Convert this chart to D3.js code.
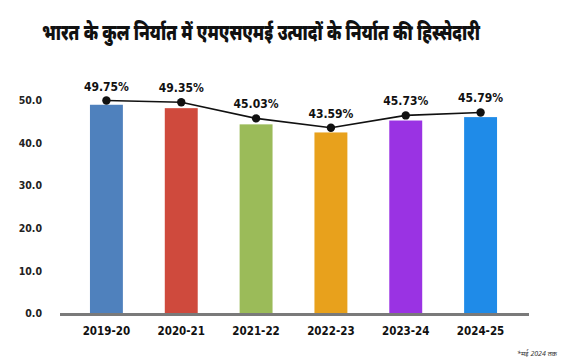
<!DOCTYPE html>
<html>
<head>
<meta charset="utf-8">
<script src="https://cdn.jsdelivr.net/npm/d3@7"></script>
<style>
  body { margin: 0; background: #fff; }
  svg { display: block; }
  .tick-label { font-family: "DejaVu Sans Condensed", "DejaVu Sans", sans-serif; font-weight: bold; font-size: 10.5px; fill: #222; }
  .cat-label { font-family: "DejaVu Sans Condensed", "DejaVu Sans", sans-serif; font-weight: bold; font-size: 11.5px; fill: #111; }
  .val-label { font-family: "DejaVu Sans Condensed", "DejaVu Sans", sans-serif; font-weight: bold; font-size: 12px; fill: #111; }
</style>
</head>
<body>
<svg class="chart"></svg>
<script>
const WIDTH = 563;
const HEIGHT = 362;

const years = ["2019-20", "2020-21", "2021-22", "2022-23", "2023-24", "2024-25"];
const barValues = [49.0, 48.2, 44.4, 42.5, 45.3, 46.1];
const lineValues = [50.0, 49.6, 45.8, 43.6, 46.5, 47.2];
const shareLabels = ["49.75%", "49.35%", "45.03%", "43.59%", "45.73%", "45.79%"];
const barColors = ["#4f81bd", "#cf4a3d", "#9bbb59", "#e8a11c", "#9a33e3", "#1f8be8"];
const yTicks = [0, 10, 20, 30, 40, 50];

const TITLE = "भारत के कुल निर्यात में एमएसएमई उत्पादों के निर्यात की हिस्सेदारी";
const NOTE = "*मई 2024 तक";

let svg = d3.select(".chart")
            .attr("width", WIDTH)
            .attr("height", HEIGHT);

let x = d3.scaleBand().domain(years).range([69, 518]).paddingInner(0.56).paddingOuter(0.28);
let y = d3.scaleLinear().domain([0, 50]).range([313.5, 100.5]);

// title: small font stretched tall, so it looks condensed like the original
svg.append("text")
   .attr("transform", "translate(261,40) scale(1,1.4)")
   .attr("text-anchor", "middle")
   .attr("textLength", 438)
   .attr("lengthAdjust", "spacingAndGlyphs")
   .style("font-family", "'Noto Sans', sans-serif")
   .style("font-weight", "900")
   .style("font-size", "15.5px")
   .attr("fill", "#111")
   .text(TITLE);

// y tick labels
svg.selectAll(".tick-label")
   .data(yTicks)
   .enter().append("text")
   .attr("class", "tick-label")
   .attr("x", 42)
   .attr("y", d => y(d))
   .attr("dy", "0.35em")
   .attr("text-anchor", "end")
   .text(d => d.toFixed(1));

// bars
svg.selectAll(".bar")
   .data(barValues)
   .enter().append("rect")
   .attr("class", "bar")
   .attr("x", (d, i) => x(years[i]))
   .attr("width", x.bandwidth())
   .attr("y", d => y(d))
   .attr("height", d => y(0) - y(d))
   .attr("fill", (d, i) => barColors[i]);

// baseline
svg.append("line")
   .attr("x1", 60)
   .attr("x2", 529)
   .attr("y1", y(0) + 1)
   .attr("y2", y(0) + 1)
   .attr("stroke", "#7a7a7a")
   .attr("stroke-width", 3);

// category labels
svg.selectAll(".cat-label")
   .data(years)
   .enter().append("text")
   .attr("class", "cat-label")
   .attr("x", d => x(d) + x.bandwidth() / 2)
   .attr("y", 335)
   .attr("text-anchor", "middle")
   .text(d => d);

// share line
let cx = (d, i) => x(years[i]) + x.bandwidth() / 2;
let line = d3.line().x(cx).y(d => y(d));

svg.append("path")
   .datum(lineValues)
   .attr("d", line)
   .attr("fill", "none")
   .attr("stroke", "#111")
   .attr("stroke-width", 1.6);

svg.selectAll(".dot")
   .data(lineValues)
   .enter().append("circle")
   .attr("class", "dot")
   .attr("cx", cx)
   .attr("cy", d => y(d))
   .attr("r", 4.2)
   .attr("fill", "#111");

svg.selectAll(".val-label")
   .data(lineValues)
   .enter().append("text")
   .attr("class", "val-label")
   .attr("x", cx)
   .attr("y", d => y(d) - 10)
   .attr("text-anchor", "middle")
   .text((d, i) => shareLabels[i]);

// footnote
svg.append("text")
   .attr("x", 557)
   .attr("y", 356)
   .attr("text-anchor", "end")
   .style("font-family", "'Noto Sans', sans-serif")
   .style("font-style", "italic")
   .style("font-size", "7px")
   .attr("fill", "#333")
   .text(NOTE);
</script>
</body>
</html>
